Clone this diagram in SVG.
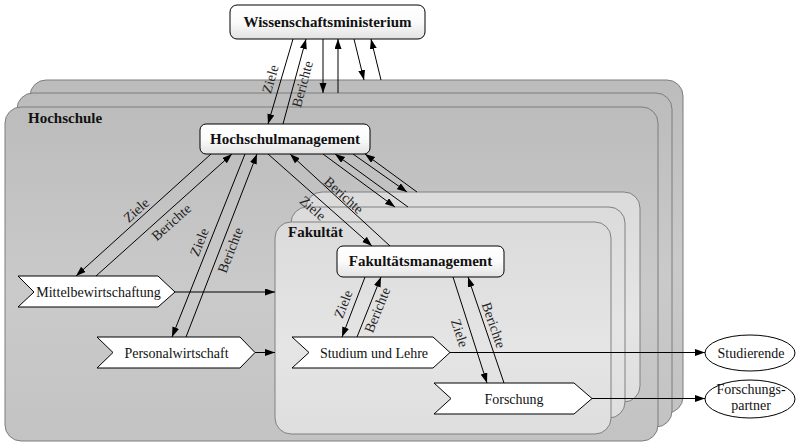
<svg xmlns="http://www.w3.org/2000/svg" width="796" height="443" viewBox="0 0 796 443">
  <defs>
    <linearGradient id="hsFill" x1="0" y1="0" x2="0" y2="1">
      <stop offset="0" stop-color="#bcbcbc"/>
      <stop offset="0.55" stop-color="#cacaca"/>
      <stop offset="1" stop-color="#c3c3c3"/>
    </linearGradient>
    <linearGradient id="fkFill" x1="0" y1="0" x2="0" y2="1">
      <stop offset="0" stop-color="#dbdbdb"/>
      <stop offset="0.6" stop-color="#e5e5e5"/>
      <stop offset="1" stop-color="#dedede"/>
    </linearGradient>
    <linearGradient id="nodeFill" x1="0" y1="0" x2="0" y2="1">
      <stop offset="0" stop-color="#ffffff"/>
      <stop offset="0.5" stop-color="#fbfbfb"/>
      <stop offset="1" stop-color="#e2e2e2"/>
    </linearGradient>
    <marker id="arrow" markerUnits="userSpaceOnUse" markerWidth="11" markerHeight="8" refX="10" refY="3.5" orient="auto">
      <path d="M0,0 L10,3.5 L0,7 z" fill="#000"/>
    </marker>
  </defs>
  <style>
    .hs { fill: url(#hsFill); stroke: #7d7d7d; stroke-width: 1; }
    .fk { fill: url(#fkFill); stroke: #808080; stroke-width: 1; }
    .box { fill: url(#nodeFill); stroke: #000; stroke-width: 1; }
    .proc { fill: #fff; stroke: #000; stroke-width: 1; }
    .ext { fill: #fff; stroke: #000; stroke-width: 1; }
    .edge { fill: none; stroke: #000; stroke-width: 1; marker-end: url(#arrow); }
    .title { font-family: "Liberation Serif", "Times New Roman", serif; font-size: 15px; font-weight: bold; fill: #111; }
    .lbl { font-family: "Liberation Serif", "Times New Roman", serif; font-size: 14px; text-anchor: middle; fill: #111; }
    .elbl { font-family: "Liberation Serif", "Times New Roman", serif; font-size: 14px; text-anchor: middle; fill: #222; }
  </style>

  <!-- University: stacked containers -->
  <g id="hochschule">
    <rect class="hs" x="30" y="80" width="653" height="333" rx="16"/>
    <rect class="hs" x="17" y="93" width="655" height="334" rx="16"/>
    <rect class="hs" x="5" y="107" width="653" height="334" rx="16"/>
    <text class="title" x="28" y="123">Hochschule</text>
  </g>

  <!-- Faculty: stacked containers -->
  <g id="fakultaet">
    <rect class="fk" x="306" y="192" width="334" height="210" rx="16"/>
    <rect class="fk" x="291" y="207" width="334" height="211" rx="16"/>
    <rect class="fk" x="275" y="222" width="336" height="212" rx="16"/>
    <text class="title" x="288" y="237">Fakultät</text>
  </g>

  <!-- Connectors -->
  <g id="connectors">
    <!-- ministry <-> university -->
    <path class="edge" d="M293,39 L268,124"/>
    <path class="edge" d="M283,124 L306,39"/>
    <path class="edge" d="M323,39 L323,93"/>
    <path class="edge" d="M338,93 L338,39"/>
    <path class="edge" d="M354,39 L364,80"/>
    <path class="edge" d="M381,80 L371,39"/>
    <!-- university management -> administration -->
    <path class="edge" d="M211,154 L76,276"/>
    <path class="edge" d="M96,276 L232,154"/>
    <path class="edge" d="M245,154 L172,337"/>
    <path class="edge" d="M186,337 L257,154"/>
    <!-- university management <-> faculties -->
    <path class="edge" d="M268,154 L372,246"/>
    <path class="edge" d="M390,246 L290,154"/>
    <path class="edge" d="M323,154 L395,207"/>
    <path class="edge" d="M408,207 L335,154"/>
    <path class="edge" d="M353,154 L407,192"/>
    <path class="edge" d="M417,192 L365,154"/>
    <!-- faculty management -> core processes -->
    <path class="edge" d="M365,277 L342,337"/>
    <path class="edge" d="M357,337 L381,277"/>
    <path class="edge" d="M453,277 L487,383"/>
    <path class="edge" d="M504,383 L468,277"/>
    <!-- supporting / output flows -->
    <path class="edge" d="M175,292 L275,292"/>
    <path class="edge" d="M255,352.5 L275,352.5"/>
    <path class="edge" d="M450,352.5 L705,352.5"/>
    <path class="edge" d="M592,398.5 L705,398.5"/>

    <!-- edge labels -->
    <g transform="translate(270,79) rotate(-73.6)"><text class="elbl" y="5">Ziele</text></g>
    <g transform="translate(302,84) rotate(-74.9)"><text class="elbl" y="5">Berichte</text></g>
    <g transform="translate(136,210) rotate(-42.1)"><text class="elbl" y="5">Ziele</text></g>
    <g transform="translate(171,222) rotate(-41.7)"><text class="elbl" y="5">Berichte</text></g>
    <g transform="translate(199,242) rotate(-68.3)"><text class="elbl" y="5">Ziele</text></g>
    <g transform="translate(230,250) rotate(-68.7)"><text class="elbl" y="5">Berichte</text></g>
    <g transform="translate(313,208) rotate(40.9)"><text class="elbl" y="5">Ziele</text></g>
    <g transform="translate(344,195) rotate(42.3)"><text class="elbl" y="5">Berichte</text></g>
    <g transform="translate(343,304) rotate(-69)"><text class="elbl" y="5">Ziele</text></g>
    <g transform="translate(377,310) rotate(-68.2)"><text class="elbl" y="5">Berichte</text></g>
    <g transform="translate(460,333) rotate(72)"><text class="elbl" y="5">Ziele</text></g>
    <g transform="translate(494,325) rotate(71)"><text class="elbl" y="5">Berichte</text></g>
  </g>

  <!-- Management nodes -->
  <g id="wissenschaftsministerium">
    <rect class="box" x="230" y="5" width="195" height="34" rx="7"/>
    <text class="title" x="327.5" y="27" text-anchor="middle">Wissenschaftsministerium</text>
  </g>
  <g id="hochschulmanagement">
    <rect class="box" x="200" y="124" width="170" height="30" rx="6"/>
    <text class="title" x="285" y="144" text-anchor="middle">Hochschulmanagement</text>
  </g>
  <g id="fakultaetsmanagement">
    <rect class="box" x="337" y="246" width="167" height="31" rx="6"/>
    <text class="title" x="420.5" y="266" text-anchor="middle">Fakultätsmanagement</text>
  </g>

  <!-- Process chevrons -->
  <g id="mittelbewirtschaftung">
    <path class="proc" d="M18,276 L158,276 L175,292 L158,307 L18,307 L34,292 Z"/>
    <text class="lbl" x="98.5" y="297">Mittelbewirtschaftung</text>
  </g>
  <g id="personalwirtschaft">
    <path class="proc" d="M97,337 L240,337 L255,352.5 L240,368 L97,368 L113,352.5 Z"/>
    <text class="lbl" x="176.5" y="357.5">Personalwirtschaft</text>
  </g>
  <g id="studium-und-lehre">
    <path class="proc" d="M292,337 L433,337 L450,352.5 L433,368 L292,368 L309,352.5 Z"/>
    <text class="lbl" x="374" y="357.5">Studium und Lehre</text>
  </g>
  <g id="forschung">
    <path class="proc" d="M434,383 L574,383 L592,398.5 L574,414 L434,414 L451,398.5 Z"/>
    <text class="lbl" x="514" y="403.5">Forschung</text>
  </g>

  <!-- External parties -->
  <g id="studierende">
    <ellipse class="ext" cx="750" cy="353" rx="45" ry="18"/>
    <text class="lbl" x="751" y="358">Studierende</text>
  </g>
  <g id="forschungspartner">
    <ellipse class="ext" cx="750" cy="399" rx="45" ry="19"/>
    <text class="lbl" x="751" y="394">Forschungs-</text>
    <text class="lbl" x="751" y="410">partner</text>
  </g>
</svg>
